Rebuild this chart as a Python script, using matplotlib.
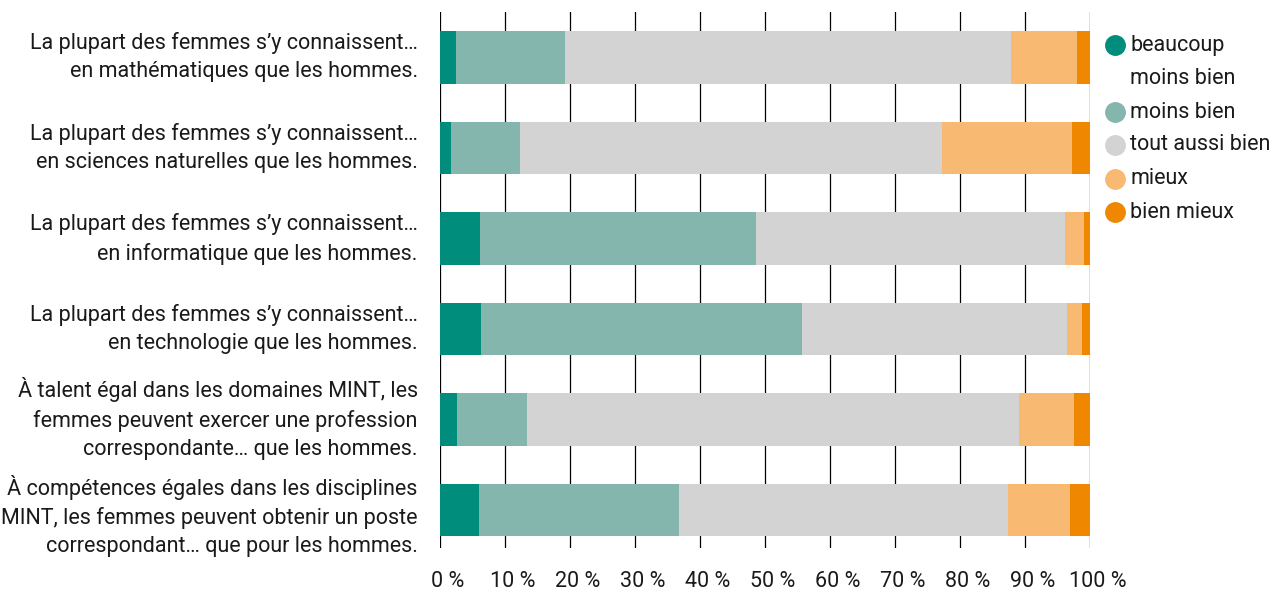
import matplotlib
matplotlib.use("Agg")
import matplotlib.pyplot as plt
import matplotlib.transforms as mtransforms
from matplotlib.lines import Line2D
import numpy as np

plt.rcParams['font.family'] = ['Roboto', 'DejaVu Sans']

statements = [
    "La plupart des femmes s’y connaissent…\nen mathématiques que les hommes.",
    "La plupart des femmes s’y connaissent…\nen sciences naturelles que les hommes.",
    "La plupart des femmes s’y connaissent…\nen informatique que les hommes.",
    "La plupart des femmes s’y connaissent…\nen technologie que les hommes.",
    "À talent égal dans les domaines MINT, les\nfemmes peuvent exercer une profession\ncorrespondante… que les hommes.",
    "À compétences égales dans les disciplines\nMINT, les femmes peuvent obtenir un poste\ncorrespondant… que pour les hommes.",
]

categories = ["beaucoup\nmoins bien", "moins bien", "tout aussi bien", "mieux", "bien mieux"]
colors = ["#008d7b", "#84b6ad", "#d3d3d3", "#f8ba73", "#f08700"]

beaucoup_moins = [2.5, 1.7, 6.1, 6.3, 2.6, 6.0]
moins_bien     = [16.7, 10.6, 42.5, 49.4, 10.8, 30.8]
aussi_bien     = [68.7, 64.9, 47.5, 40.8, 75.6, 50.6]
mieux          = [10.1, 20.0, 3.0, 2.2, 8.5, 9.5]
bien_mieux     = [2.0, 2.8, 0.9, 1.3, 2.5, 3.1]

series = [beaucoup_moins, moins_bien, aussi_bien, mieux, bien_mieux]
tick_values = list(range(0, 101, 10))
tick_labels = [f"{v} %" for v in tick_values]

FS = 15.5
TXT = "#1a1a1a"

W, H = 1283, 592
fig = plt.figure(figsize=(W / 100, H / 100), dpi=100)
ax = fig.add_axes([440 / W, 1 - 548 / H, 650 / W, (548 - 12) / H])

y = np.arange(len(statements))
left = np.zeros(len(statements))
for vals, col in zip(series, colors):
    vals = np.array(vals)
    ax.barh(y, vals, left=left, height=0.58, color=col, zorder=2, linewidth=0)
    left += vals

ax.set_xlim(0, 100)
ax.set_ylim(5.42, -0.5)
ax.set_xticks(tick_values)
ax.set_xticklabels(tick_labels, fontsize=FS, color=TXT)
ax.set_yticks(y)
ax.set_yticklabels(statements, fontsize=FS, color=TXT, linespacing=1.45,
                   ha="right", multialignment="right")
ax.tick_params(axis="y", length=0, pad=16)
ax.tick_params(axis="x", length=0, pad=16.5)
ax.grid(axis="x", color="black", linewidth=0.9, zorder=1)
for s in ax.spines.values():
    s.set_visible(False)

# nudge the percentage labels slightly to the right
shift_x = mtransforms.ScaledTranslation(8 / 100, 0, fig.dpi_scale_trans)
for lbl in ax.get_xticklabels():
    lbl.set_transform(lbl.get_transform() + shift_x)

# lift the statement labels a little so they sit centred on their bars
lift = [6, 6, 6, 6, 7, 0]
for lbl, dy in zip(ax.get_yticklabels(), lift):
    lbl.set_transform(lbl.get_transform() +
                      mtransforms.ScaledTranslation(0, dy / 100, fig.dpi_scale_trans))

# legend drawn by hand so the marker sits on the first text line
leg_y = [45, 112, 145, 179, 212]
for cat, col, yy in zip(categories, colors, leg_y):
    fig.add_artist(Line2D([1115 / W], [1 - yy / H], marker="o", markersize=14,
                          color=col, linestyle="none", transform=fig.transFigure))
    for k, line in enumerate(cat.split("\n")):
        fig.text(1130 / W, 1 - (yy + 33 * k) / H, line, fontsize=FS, color=TXT,
                 va="center", transform=fig.transFigure)

fig.savefig("out.png", dpi=100)
